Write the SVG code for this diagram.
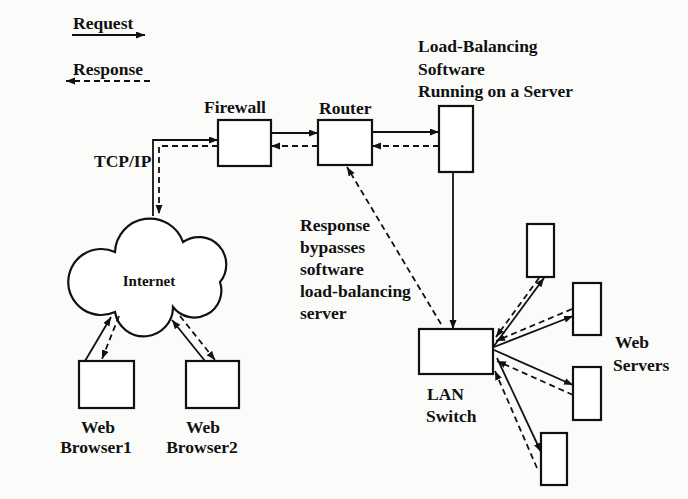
<svg xmlns="http://www.w3.org/2000/svg" width="688" height="499" viewBox="0 0 688 499">
  <style>
    .box { fill: #fff; stroke: #111; stroke-width: 2.2; }
    .req { fill: none; stroke: #111; stroke-width: 1.8; marker-end: url(#head); }
    .resp { fill: none; stroke: #111; stroke-width: 1.8; stroke-dasharray: 6 4; marker-end: url(#head); }
    .lbl { font-family: "Liberation Serif", "Times New Roman", serif; font-weight: bold; font-size: 17.5px; fill: #111; }
    .small { font-size: 15px; }
    .mid { text-anchor: middle; }
  </style>
  <defs>
    <marker id="head" markerUnits="userSpaceOnUse" markerWidth="10" markerHeight="8" refX="9" refY="3.5" orient="auto">
      <path d="M0,0 L9,3.5 L0,7 z" fill="#111"/>
    </marker>
  </defs>

  <rect width="688" height="499" fill="#fbfbfa"/>

  <!-- legend -->
  <g id="legend">
    <text class="lbl" x="73" y="29">Request</text>
    <path class="req" d="M72,35 L145,35"/>
    <text class="lbl" x="73" y="75">Response</text>
    <path class="resp" d="M150,81 L66,81"/>
  </g>

  <!-- nodes -->
  <g id="internet">
    <path class="box" d="M115,252 A35,35 0 0 1 183,242 A27.5,27.5 0 0 1 220,282 A27,27 0 0 1 173,307 A29.2,29.2 0 0 1 115,312 A33,33 0 1 1 115,252 Z"/>
    <text class="lbl small mid" x="149" y="286">Internet</text>
  </g>
  <g id="firewall">
    <rect class="box" x="218" y="120" width="53" height="46"/>
    <text class="lbl" x="204" y="113">Firewall</text>
  </g>
  <g id="router">
    <rect class="box" x="318" y="120" width="54" height="45"/>
    <text class="lbl" x="319" y="114">Router</text>
  </g>
  <g id="lb-server">
    <rect class="box" x="439" y="106" width="34" height="66"/>
    <text class="lbl" x="418" y="52">Load-Balancing</text>
    <text class="lbl" x="418" y="75">Software</text>
    <text class="lbl" x="418" y="97">Running on a Server</text>
  </g>
  <g id="lan-switch">
    <rect class="box" x="419" y="329" width="74" height="45"/>
    <text class="lbl" x="427" y="400">LAN</text>
    <text class="lbl" x="426" y="422">Switch</text>
  </g>
  <g id="browser1">
    <rect class="box" x="79" y="361" width="55" height="47"/>
    <text class="lbl mid" x="98" y="433">Web</text>
    <text class="lbl mid" x="96" y="453">Browser1</text>
  </g>
  <g id="browser2">
    <rect class="box" x="186" y="361" width="53" height="47"/>
    <text class="lbl mid" x="203" y="433">Web</text>
    <text class="lbl mid" x="202" y="453">Browser2</text>
  </g>
  <g id="web-servers">
    <rect class="box" x="527" y="224" width="27" height="53"/>
    <rect class="box" x="573" y="283" width="28" height="52"/>
    <rect class="box" x="573" y="367" width="28" height="53"/>
    <rect class="box" x="541" y="433" width="26" height="52"/>
    <text class="lbl" x="615" y="348">Web</text>
    <text class="lbl" x="613" y="371">Servers</text>
  </g>
  <g id="bypass-note">
    <text class="lbl" x="300" y="231">Response</text>
    <text class="lbl" x="300" y="253">bypasses</text>
    <text class="lbl" x="300" y="275">software</text>
    <text class="lbl" x="300" y="297">load-balancing</text>
    <text class="lbl" x="300" y="319">server</text>
  </g>
  <text class="lbl" x="94" y="167">TCP/IP</text>

  <!-- connectors -->
  <g id="connectors">
    <!-- internet <-> firewall -->
    <path class="req" d="M153,216 L153,140 L218,140"/>
    <path class="resp" d="M218,146 L159,146 L159,214"/>
    <!-- firewall <-> router -->
    <path class="req" d="M271,133 L318,133"/>
    <path class="resp" d="M318,146 L271,146"/>
    <!-- router <-> load balancer -->
    <path class="req" d="M372,132 L439,132"/>
    <path class="resp" d="M439,146 L372,146"/>
    <!-- load balancer -> switch -->
    <path class="req" d="M453,172 L453,329"/>
    <!-- switch -> router, bypassing the balancer -->
    <path class="resp" d="M441,324 L347,167"/>
    <!-- browsers <-> internet -->
    <path class="req" d="M85,361 L111,317"/>
    <path class="resp" d="M119,316 L102,359"/>
    <path class="req" d="M205,361 L172,320"/>
    <path class="resp" d="M180,316 L215,360"/>
    <!-- switch <-> web servers -->
    <path class="req" d="M494,346 L544,278"/>
    <path class="resp" d="M539,278 L496,337"/>
    <path class="req" d="M494,347 L573,316"/>
    <path class="resp" d="M572,309 L496,341"/>
    <path class="req" d="M494,350 L573,385"/>
    <path class="resp" d="M573,395 L497,361"/>
    <path class="req" d="M497,358 L541,452"/>
    <path class="resp" d="M537,468 L495,371"/>
  </g>
</svg>
